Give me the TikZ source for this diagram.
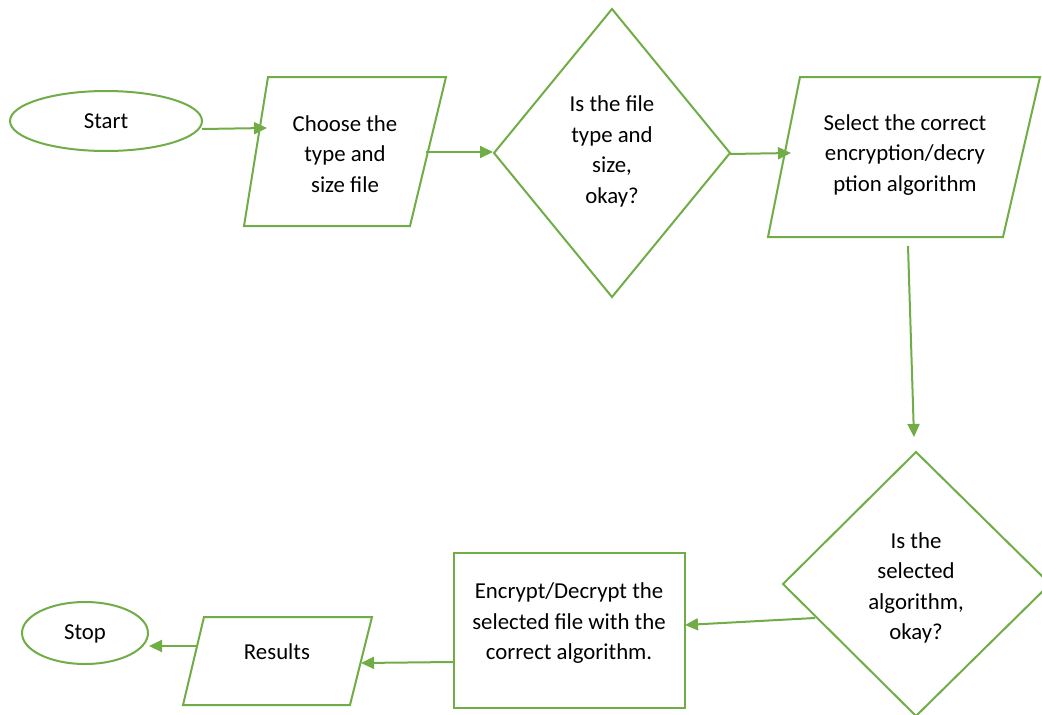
\documentclass[tikz,border=0pt]{standalone}
\usepackage{fontspec}
\setmainfont{Carlito}
\usetikzlibrary{arrows.meta}
\definecolor{fgreen}{RGB}{112,173,71}
\begin{document}
\begin{tikzpicture}[x=1pt,y=-1pt,
  outline/.style={draw=fgreen,line width=2pt,fill=white},
  lbl/.style={align=center,font=\fontsize{22.8}{30.5}\selectfont,text=black,inner sep=0pt},
  conn/.style={draw=fgreen,line width=2pt,-{Triangle[length=13pt,width=12pt]}}]
\useasboundingbox (0,0) rectangle (1042,715);
\clip (0,0) rectangle (1042,715);
% shapes
\draw[outline] (106,121) ellipse [x radius=96, y radius=30];
\draw[outline] (268,77) -- (446,77) -- (410,226) -- (244,226) -- cycle;
\draw[outline] (612,9) -- (730,153) -- (612,297) -- (494,153) -- cycle;
\draw[outline] (800,77) -- (1040,77) -- (1003,237) -- (768,237) -- cycle;
\draw[outline] (916,452) -- (1050,584) -- (916,716) -- (783,584) -- cycle;
\draw[outline] (454,553) rectangle (685,708);
\draw[outline] (204,617) -- (372,617) -- (350,705) -- (183,705) -- cycle;
\draw[outline] (85,633) ellipse [x radius=63, y radius=31];
% texts
\node[lbl] (start) at (106,121) {Start};
\node[lbl] (choose) at (345,154) {Choose the\\type and\\size file};
\node[lbl] (check1) at (612,151.5) {Is the file\\type and\\size,\\okay?};
\node[lbl] (select) at (905,155) {Select the correct\\encryption/decry\\ption algorithm};
\node[lbl] (check2) at (916,588) {Is the\\selected\\algorithm,\\okay?};
\node[lbl] (crypt) at (569,623.5) {Encrypt/Decrypt the\\selected file with the\\correct algorithm.};
\node[lbl] (results) at (277,652) {Results};
\node[lbl] (stop) at (85,634) {Stop};
% connector ends
\coordinate (a1) at (202,129); \coordinate (a2) at (267,128);
\coordinate (b1) at (426,152); \coordinate (b2) at (493,152);
\coordinate (c1) at (730,154); \coordinate (c2) at (791,153);
\coordinate (d1) at (908,246); \coordinate (d2) at (914,437);
\coordinate (e1) at (815,618); \coordinate (e2) at (685,625);
\coordinate (f1) at (453,662); \coordinate (f2) at (361,663);
\coordinate (g1) at (196,646); \coordinate (g2) at (149,646);
\draw[conn] (a1) -- (a2);
\draw[conn] (b1) -- (b2);
\draw[conn] (c1) -- (c2);
\draw[conn] (d1) -- (d2);
\draw[conn] (e1) -- (e2);
\draw[conn] (f1) -- (f2);
\draw[conn] (g1) -- (g2);
\end{tikzpicture}
\end{document}
